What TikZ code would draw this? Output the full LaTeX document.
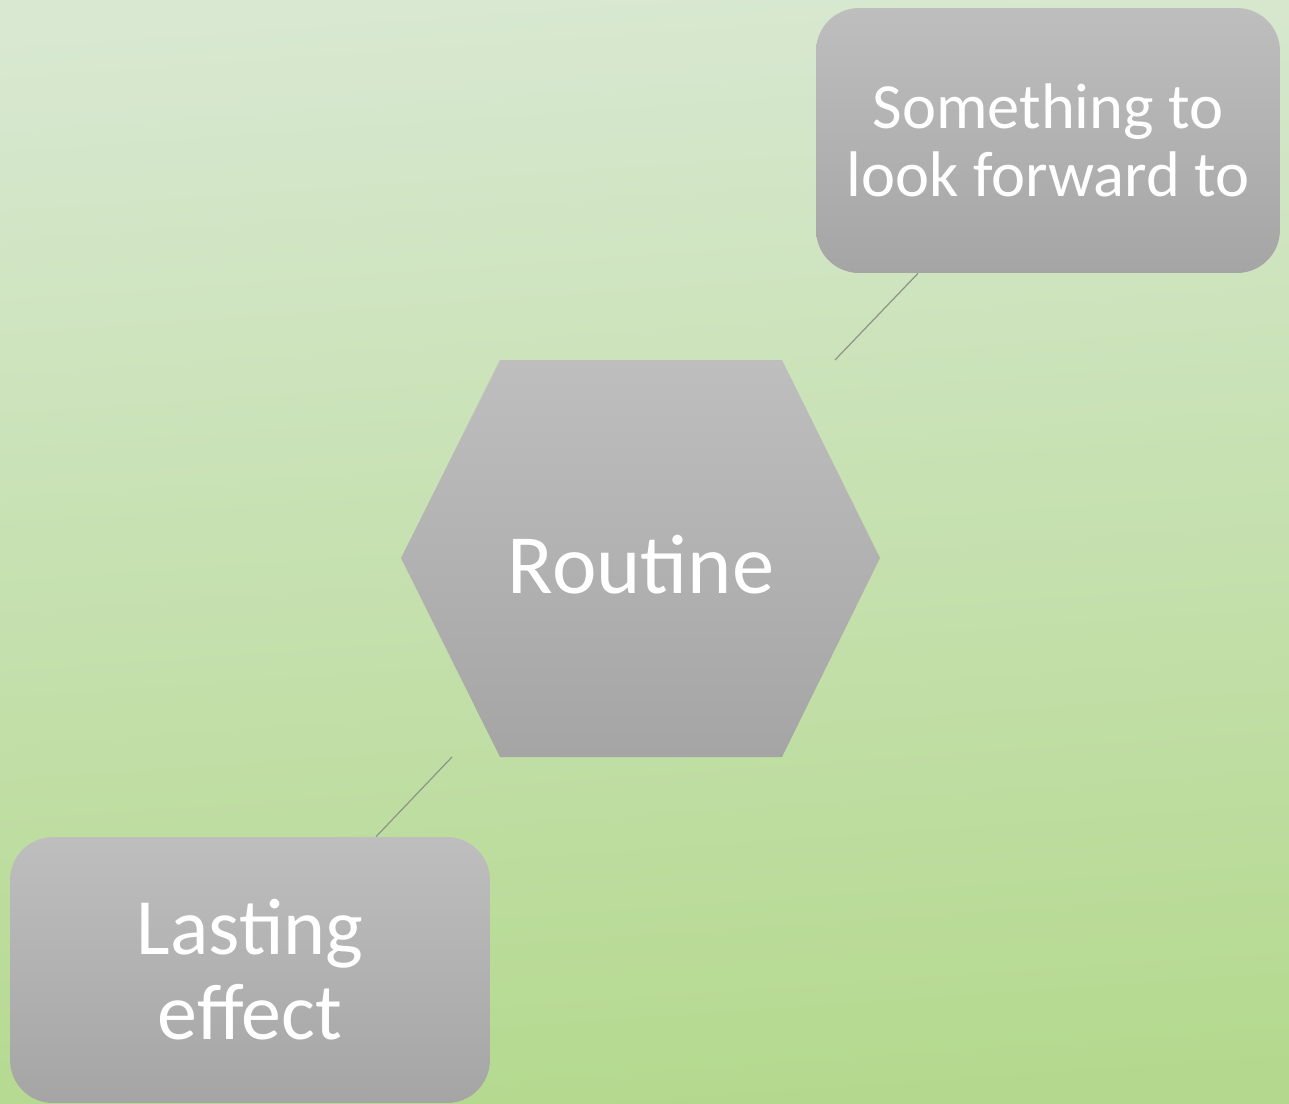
\documentclass[tikz,border=0pt]{standalone}
\usepackage{fontspec}
\setmainfont{Carlito}
\definecolor{bgtop}{HTML}{D8E8D1}
\definecolor{bgbot}{HTML}{B4D98E}
\definecolor{graytop}{HTML}{BEBEBE}
\definecolor{graybot}{HTML}{A5A5A5}
\definecolor{linkgray}{HTML}{8C9689}
\begin{document}
\begin{tikzpicture}[x = 0.02cm, y = -0.02cm,
  card/.style = {top color = graytop, bottom color = graybot, rounded corners = 0.86cm,
                 text = white, align = center, inner sep = 0pt},
  link/.style = {linkgray, line width = 0.7pt}]
\shade[top color = bgtop, bottom color = bgbot, shading angle = 4] (0,0) rectangle (1289,1103);
\useasboundingbox (0,0) rectangle (1289,1103);
\shade[top color = graytop, bottom color = graybot] (500,360) -- (782,360) -- (880,558) -- (782,757) -- (500,757) -- (401,558) -- cycle;
\node[text = white, font = \fontsize{48}{52}\selectfont] (routine) at (641,565) {Routine};
\node[card, minimum width = 9.28cm, minimum height = 5.3cm, font = \fontsize{36.7}{38.5}\selectfont] (forward) at (1048,140.5) {Something to\\look forward to};
\node[card, minimum width = 9.6cm, minimum height = 5.32cm, font = \fontsize{45.5}{48.5}\selectfont] (lasting) at (250,970) {Lasting\\effect};
\coordinate (hexne) at (835,360);
\coordinate (hexsw) at (452,757);
\draw[link] (hexne) -- (forward.south -| 918,0);
\draw[link] (hexsw) -- (lasting.north -| 376,0);
\end{tikzpicture}
\end{document}
